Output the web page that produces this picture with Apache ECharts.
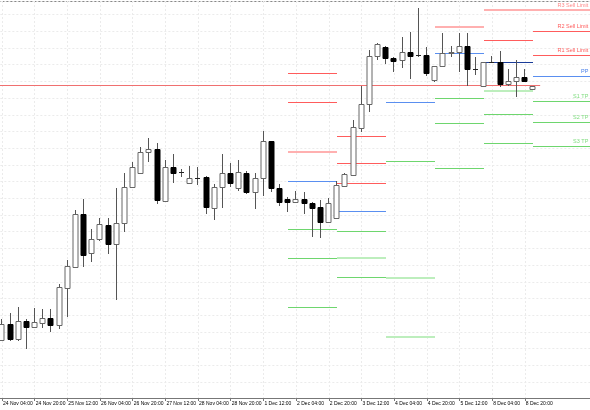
<!DOCTYPE html>
<html><head><meta charset="utf-8">
<script src="https://cdn.jsdelivr.net/npm/echarts@6/dist/echarts.min.js"></script>
<style>html,body{margin:0;padding:0;background:#fff}#c{width:590px;height:410px}</style>
</head><body><div id="c"></div>
<script>
// candles: [open, close, low, high]
const candles = [
[58,74,57,79],[74,59,57,85],[59,77,57,91],[77,71,49,79],[71,76,71,90],[75,80,70,89],[80,73,66,89],[73,111,69,114],
[110,132,81,138],[131,184,130,188],[184,143,131,199],[145,159,136,169],[159,174,157,180],[173,154,144,180],[154,175,98,210],[175,211,166,225],
[211,231,210,236],[225,246,224,251],[246,249,236,260],[249,198,194,255],[197,231,196,238],[231,225,215,244],[226,226,221,229],[215,220,215,232],
[220,220,213,231],[221,191,184,222],[190,211,178,214],[211,225,190,244],[225,215,211,235],[210,226,207,238],[225,206,204,227],[206,220,189,225],
[220,257,202,267],[257,210,206,257],[210,196,192,214],[199,196,186,201],[196,199,195,207],[199,195,184,206],[195,190,161,196],[191,176,160,198],
[176,195,175,200],[180,213,180,217],[212,224,211,225],[223,271,222,278],[270,294,266,312],[294,342,286,348],[342,354,338,355],[351,340,334,352],
[340,337,326,341],[338,346,330,361],[346,342,319,366],[343,343,341,390],[343,325,322,351],[318,332,316,332],[332,345,331,365],[345,346,341,352],
[346,352,326,365],[352,329,312,365],[329,329,323,341],[312,336,312,336],[336,336,335,342],[336,314,311,347],[314,317,312,329],[317,321,301,338],
[321,317,316,329],[309,312,309,312]
];
const timeLabels = ['24 Nov 04:00','24 Nov 20:00','25 Nov 12:00','26 Nov 04:00','26 Nov 20:00','27 Nov 12:00','28 Nov 04:00','28 Nov 20:00','1 Dec 12:00','2 Dec 04:00','2 Dec 20:00','3 Dec 12:00','4 Dec 04:00','4 Dec 20:00','5 Dec 12:00','8 Dec 04:00','8 Dec 20:00'];
// pivot segments: [startIndex, endIndex, level, kind]
const pivotSegs = [
[35,41,325,'R'],[35,41,296,'R'],[35,41,246,'RL'],[35,41,217,'P'],[35,41,169,'S'],[35,41,140,'S'],[35,41,91,'S'],
[41,47,262,'R'],[41,47,235,'R'],[41,47,215,'R'],[41,47,187,'P'],[41,47,167,'S'],[41,47,140,'SL'],[41,47,121,'S'],
[47,53,296,'P'],[47,53,237,'S'],[47,53,120,'SL'],[47,53,61,'SL'],
[53,59,371,'RL'],[53,59,345,'P'],[53,59,300,'S'],[53,59,275,'S'],[53,59,230,'S'],
[59,65,388,'RL'],[59,65,358,'R'],[59,65,336,'PD'],[59,65,307,'SL'],[59,65,284,'S'],[59,65,255,'S'],
[65,72,388,'RL'],[65,72,367,'R'],[65,72,343,'R'],[65,72,322,'P'],[65,72,297,'S'],[65,72,276,'S'],[65,72,252,'S']
];
const levelNames = ['R3 Sell Limit','R2 Sell Limit','R1 Sell Limit','PP','S1 TP','S2 TP','S3 TP'];
const currentPrice = 312.5;

const kindStyle = {R:['#ff5c5c',1],RL:['#ffb0b0',2],P:['#5a8ff0',1],PD:['#1a3c99',1],S:['#6ed66e',1],SL:['#bdeebd',2]};
const labelColor = ['#ff8a8a','#ff5c5c','#ff5c5c','#4a80ea','#7edc7e','#7edc7e','#7edc7e'];
const lastSeg = pivotSegs.filter(s=>s[0]===65);
const crisp = v => Math.floor(v)+0.5;

const chart = echarts.init(document.getElementById('c'));
chart.setOption({
  animation:false,
  backgroundColor:'#fff',
  grid:{left:0,right:0,top:1,bottom:11.3},
  xAxis:{type:'value',min:-0.18,max:72,
    axisLine:{lineStyle:{color:'#777',width:1}},
    axisTick:{show:true,length:3,lineStyle:{color:'#777'},customValues:timeLabels.map((_,i)=>i*4+0.02)},
    axisLabel:{customValues:timeLabels.map((_,i)=>i*4+0.02),formatter:v=>timeLabels[Math.round((v-0.02)/4)],
      align:'left',margin:2,padding:[0,0,0,1],fontSize:5,fontFamily:'Liberation Sans',color:'#000'},
    splitLine:{show:true,lineStyle:{color:'#ebebeb',type:[2,2]}}},
  yAxis:{type:'value',min:-0.7,max:397,interval:16.7,
    axisLine:{show:false},axisTick:{show:false},axisLabel:{show:false},
    splitLine:{show:true,lineStyle:{color:'#ebebeb',type:[2,2]}}},
  graphic:[{type:'line',shape:{x1:0,y1:1.5,x2:590,y2:1.5},style:{stroke:'#888',lineWidth:1}}],
  series:[
    {type:'custom',z:2,data:pivotSegs.map(s=>[s[0],s[1],s[2]]),
      renderItem:(p,api)=>{
        const s=pivotSegs[p.dataIndex];
        const a=api.coord([s[0],s[2]]),b=api.coord([s[1],s[2]]);
        const st=kindStyle[s[3]];
        const y=st[1]===2?Math.round(a[1]):crisp(a[1]);
        return {type:'line',shape:{x1:Math.round(a[0]),y1:y,x2:Math.round(b[0]),y2:y},style:{stroke:st[0],lineWidth:st[1],opacity:1}};
      }},
    {type:'custom',z:3,data:[[0,currentPrice]],
      renderItem:(p,api)=>{const a=api.coord([0,currentPrice]),b=api.coord([65.9,currentPrice]);const y=crisp(a[1]);
        return {type:'line',shape:{x1:0,y1:y,x2:b[0],y2:y},style:{stroke:'#f07070',lineWidth:1}};}},
    {type:'custom',z:4,data:lastSeg.map(s=>[s[0],s[2]]),
      renderItem:(p,api)=>{const s=lastSeg[p.dataIndex];const a=api.coord([71.8,s[2]]);
        return {type:'text',x:a[0],y:a[1]-2,style:{text:levelNames[p.dataIndex],align:'right',verticalAlign:'bottom',
          fontSize:5.5,fontFamily:'Liberation Sans',fill:labelColor[p.dataIndex]}};}},
    {type:'custom',z:5,data:candles.map((c,i)=>[i,c[0],c[1],c[2],c[3]]),
      renderItem:(p,api)=>{
        const i=api.value(0),o=api.value(1),c=api.value(2),l=api.value(3),h=api.value(4);
        const x=crisp(api.coord([i,0])[0]);
        const yo=api.coord([i,o])[1],yc=api.coord([i,c])[1],yl=api.coord([i,l])[1],yh=api.coord([i,h])[1];
        const top=Math.min(yo,yc),bot=Math.max(yo,yc);
        const bull=c>=o;
        const ch=[{type:'line',shape:{x1:x,y1:yh,x2:x,y2:yl},style:{stroke:'#555',lineWidth:1}}];
        if(bot-top<1){ch.push({type:'line',shape:{x1:x-2.5,y1:crisp(top),x2:x+2.5,y2:crisp(top)},style:{stroke:'#222',lineWidth:1}});}
        else ch.push({type:'rect',shape:{x:x-2.5,y:crisp(top),width:5,height:Math.round(bot-top)},
          style:bull?{fill:'#fff',stroke:'#666',lineWidth:1}:{fill:'#000',stroke:'#000',lineWidth:1}});
        return {type:'group',children:ch};
      }}
  ]
});
</script></body></html>
